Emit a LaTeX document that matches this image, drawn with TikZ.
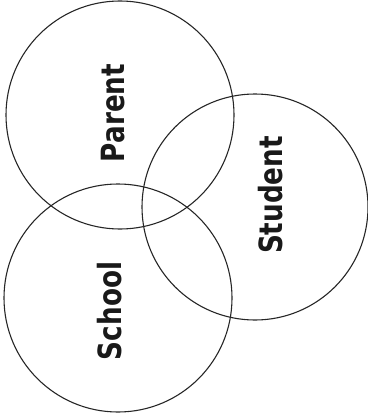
\documentclass[tikz,border=0pt]{standalone}
\usepackage{fontspec}
\setmainfont{DejaVu Sans}[FakeStretch=0.82]
\begin{document}
\begin{tikzpicture}[x=1pt,y=-1pt,
  ring/.style={draw=black!85, line width=1.1pt, circle, minimum size=228pt, inner sep=0pt},
  lbl/.style={rotate=90, font=\fontsize{32}{32}\selectfont\bfseries, text=black!90, inner sep=0pt}]
\useasboundingbox (0,0) rectangle (367,420);
\node[ring] (parent) at (120,115) {};
\node[ring, minimum size=226pt] (student) at (255,207) {};
\node[ring] (school) at (118,298) {};
\node[lbl] (tparent) at (113,113) {Parent};
\node[lbl] (tstudent) at (271,195) {Student};
\node[lbl] (tschool) at (110,311) {School};
\end{tikzpicture}
\end{document}
